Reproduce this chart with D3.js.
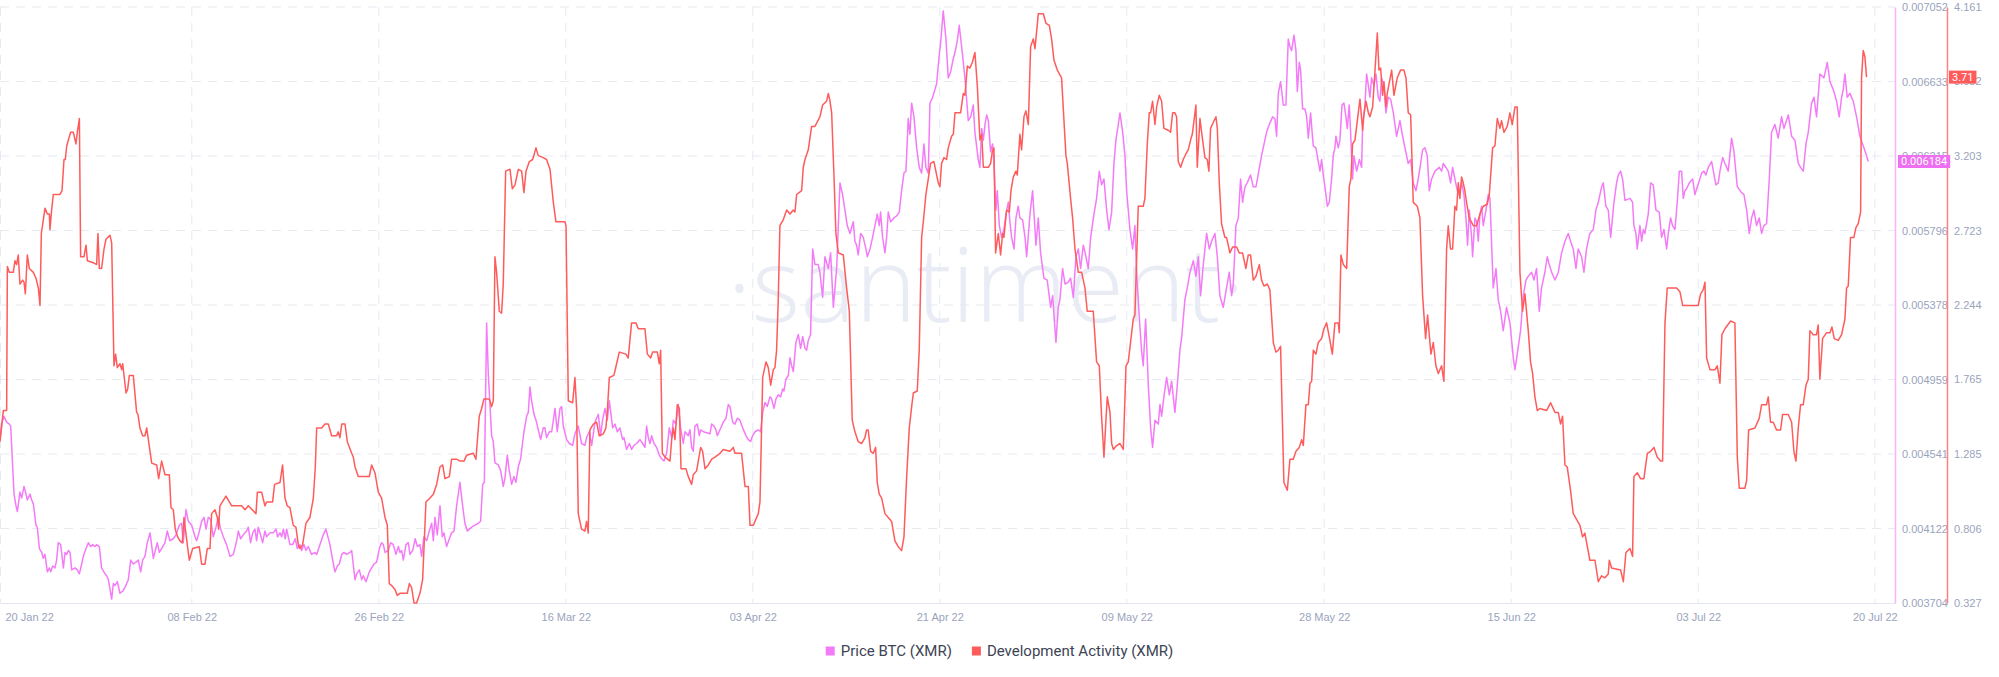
<!DOCTYPE html>
<html>
<head>
<meta charset="utf-8">
<script src="https://cdn.jsdelivr.net/npm/d3@7"></script>
<style>
  body { margin: 0; background: #fff; }
  svg { display: block; font-family: Roboto, "Open Sans", sans-serif; }
</style>
</head>
<body>
<div id="chart"></div>
<script>
// XMR price in BTC vs development activity, 20 Jan - 20 Jul 2022

// time of the left edge of the plot, series offsets are in days from it
const startTime = Date.UTC(2022, 0, 20, 13, 0);
const spanDays = 182.4;

const tickDates = ['2022-01-20', '2022-02-08', '2022-02-26', '2022-03-16', '2022-04-03', '2022-04-21',
  '2022-05-09', '2022-05-28', '2022-06-15', '2022-07-03', '2022-07-20'];
const priceTicks = [0.003704, 0.004122, 0.004541, 0.004959, 0.005378, 0.005796, 0.006215, 0.006633, 0.007052];
const devTicks = [0.327, 0.806, 1.285, 1.765, 2.244, 2.723, 3.203, 3.682, 4.161];
const seriesNames = ['Price BTC (XMR)', 'Development Activity (XMR)'];

const priceDays = [
  0, 0.16, 0.38, 0.64, 0.90, 1.03, 1.22, 1.35, 1.54, 1.67, 1.80, 1.92, 2.09, 2.31, 2.50, 2.63, 2.89, 3.05, 3.21, 3.46,
  3.59, 3.79, 4.01, 4.17, 4.33, 4.56, 4.75, 4.88, 5.07, 5.29, 5.45, 5.61, 5.84, 6.10, 6.26, 6.42, 6.58, 6.74, 6.90, 7.22,
  7.44, 7.64, 7.86, 8.02, 8.28, 8.50, 8.73, 8.92, 9.14, 9.30, 9.56, 9.78, 10.11, 10.27, 10.43, 10.75, 10.91, 11.07, 11.29, 11.55,
  11.81, 12.03, 12.35, 12.58, 12.83, 13.09, 13.31, 13.54, 13.73, 13.95, 14.18, 14.44, 14.76, 14.95, 15.14, 15.33, 15.56, 15.88, 16.10, 16.36,
  16.68, 16.94, 17.26, 17.48, 17.64, 17.90, 18.13, 18.45, 18.77, 18.93, 19.15, 19.41, 19.63, 19.83, 20.05, 20.27, 20.53, 20.79, 21.01, 21.24,
  21.49, 21.81, 22.14, 22.46, 22.78, 22.94, 23.16, 23.42, 23.74, 23.90, 24.12, 24.32, 24.54, 24.70, 24.86, 25.02, 25.28, 25.50, 25.66, 25.98,
  26.31, 26.56, 26.72, 26.95, 27.11, 27.27, 27.46, 27.59, 27.91, 28.17, 28.42, 28.62, 28.87, 29.03, 29.26, 29.45, 29.67, 29.99, 30.32, 30.48,
  30.80, 31.12, 31.37, 31.76, 32.02, 32.24, 32.47, 32.66, 32.89, 33.11, 33.37, 33.69, 33.85, 34.17, 34.33, 34.59, 34.81, 34.97, 35.23, 35.55,
  35.77, 36.00, 36.25, 36.51, 36.73, 36.90, 37.06, 37.38, 37.60, 37.86, 38.11, 38.34, 38.50, 38.66, 38.82, 39.08, 39.30, 39.46, 39.72, 39.97,
  40.17, 40.42, 40.58, 40.81, 41.07, 41.32, 41.55, 41.71, 41.87, 42.09, 42.35, 42.57, 42.73, 42.99, 43.25, 43.47, 43.70, 43.95, 44.27, 44.53,
  44.75, 44.98, 45.40, 45.72, 46.04, 46.26, 46.46, 46.62, 46.84, 47.00, 47.32, 47.48, 47.64, 47.96, 48.19, 48.44, 48.60, 48.83, 49.02, 49.25,
  49.47, 49.66, 49.89, 50.11, 50.43, 50.69, 50.85, 51.01, 51.17, 51.40, 51.59, 51.81, 52.04, 52.29, 52.45, 52.61, 52.87, 53.10, 53.42, 53.64,
  53.90, 54.06, 54.22, 54.54, 54.80, 55.12, 55.34, 55.66, 55.98, 56.30, 56.46, 56.72, 56.95, 57.27, 57.59, 57.81, 58.00, 58.23, 58.45, 58.65,
  58.97, 59.19, 59.42, 59.67, 59.93, 60.06, 60.31, 60.57, 60.79, 61.02, 61.28, 61.60, 61.86, 62.08, 62.24, 62.40, 62.56, 62.72, 62.95, 63.20,
  63.46, 63.69, 63.91, 64.17, 64.42, 64.65, 64.81, 65.06, 65.29, 65.51, 65.77, 65.93, 66.25, 66.41, 66.57, 66.73, 66.89, 67.12, 67.31, 67.44,
  67.70, 68.34, 68.50, 68.72, 68.91, 69.04, 69.30, 69.62, 69.88, 70.10, 70.26, 70.52, 70.74, 70.97, 71.22, 71.48, 71.80, 72.03, 72.25, 72.44,
  72.67, 72.99, 73.21, 73.41, 73.63, 73.85, 74.11, 74.27, 74.50, 74.69, 74.91, 75.14, 75.33, 75.46, 75.65, 75.88, 76.04, 76.20, 76.36, 76.61,
  76.84, 77.06, 77.26, 77.48, 77.64, 77.80, 78.02, 78.22, 78.44, 78.76, 78.92, 79.18, 79.40, 79.73, 79.95, 80.21, 80.53, 80.85, 81.10, 81.33,
  81.55, 81.81, 82.13, 82.29, 82.45, 82.61, 82.84, 83.09, 83.35, 83.48, 83.74, 83.99, 84.22, 84.44, 84.63, 84.76, 84.95, 85.18, 85.34, 85.50,
  85.72, 86.04, 86.30, 86.56, 86.78, 87.01, 87.20, 87.42, 87.58, 87.75, 87.97, 88.23, 88.48, 88.71, 88.93, 89.12, 89.35, 89.51, 89.77, 89.99,
  90.15, 90.41, 90.54, 90.79, 91.05, 91.27, 91.50, 91.76, 91.92, 92.14, 92.33, 92.56, 92.88, 93.20, 93.43, 93.68, 93.84, 94.16, 94.32, 94.49,
  94.65, 94.81, 94.97, 95.13, 95.35, 95.54, 95.67, 95.86, 95.99, 96.19, 96.41, 96.63, 96.83, 97.05, 97.21, 97.37, 97.60, 97.79, 98.01, 98.17,
  98.43, 98.66, 98.82, 99.14, 99.39, 99.62, 99.71, 99.94, 100.16, 100.48, 100.80, 101.13, 101.32, 101.64, 101.86, 102.02, 102.28, 102.51, 102.83, 103.05,
  103.31, 103.56, 103.79, 104.01, 104.27, 104.53, 104.75, 104.98, 105.30, 105.55, 105.81, 106.03, 106.26, 106.52, 106.74, 107.00, 107.22, 107.41, 107.64, 107.80,
  108.06, 108.28, 108.44, 108.76, 109.02, 109.24, 109.40, 109.72, 109.88, 110.04, 110.27, 110.53, 110.75, 110.94, 111.17, 111.49, 111.65, 111.81, 112.03, 112.29,
  112.55, 112.77, 113.09, 113.32, 113.57, 113.73, 114.05, 114.28, 114.54, 114.86, 115.11, 115.34, 115.56, 115.82, 116.14, 116.40, 116.62, 116.94, 117.17, 117.42,
  117.74, 118.06, 118.32, 118.55, 118.71, 118.96, 119.19, 119.41, 119.60, 119.83, 120.05, 120.37, 120.63, 120.89, 121.43, 121.91, 122.17, 122.49, 122.72, 122.88,
  123.04, 123.26, 123.52, 123.77, 124.00, 124.16, 124.32, 124.55, 124.74, 124.87, 125.06, 125.19, 125.38, 125.61, 125.77, 125.93, 126.15, 126.28, 126.41, 126.66,
  126.79, 127.05, 127.21, 127.37, 127.53, 127.76, 127.95, 128.17, 128.33, 128.49, 128.59, 128.81, 128.97, 129.17, 129.36, 129.55, 129.68, 129.87, 130.00, 130.19,
  130.32, 130.58, 130.84, 131.06, 131.16, 131.38, 131.54, 131.71, 131.86, 132.02, 132.25, 132.44, 132.66, 132.82, 132.98, 133.21, 133.40, 133.63, 133.85, 134.11,
  134.43, 134.75, 134.94, 135.23, 135.55, 135.78, 136.03, 136.29, 136.51, 136.74, 136.93, 137.15, 137.38, 137.57, 137.80, 138.12, 138.53, 138.76, 138.92, 139.18,
  139.40, 139.62, 139.82, 140.04, 140.27, 140.46, 140.68, 140.91, 141.10, 141.26, 141.42, 141.65, 141.74, 141.97, 142.13, 142.29, 142.45, 142.61, 142.77, 143.03,
  143.25, 143.41, 143.51, 143.73, 143.99, 144.21, 144.44, 144.69, 145.01, 145.34, 145.66, 145.82, 146.04, 146.36, 146.62, 146.88, 147.10, 147.42, 147.65, 147.90,
  148.16, 148.38, 148.70, 148.93, 149.12, 149.35, 149.67, 149.99, 150.31, 150.63, 150.95, 151.17, 151.43, 151.69, 151.91, 152.23, 152.46, 152.71, 153.03, 153.36,
  153.61, 153.84, 154.16, 154.32, 154.57, 154.80, 155.03, 155.35, 155.60, 155.76, 155.99, 156.18, 156.41, 156.89, 157.14, 157.27, 157.46, 157.59, 157.85, 158.01,
  158.17, 158.33, 158.65, 158.88, 159.13, 159.39, 159.71, 159.93, 160.16, 160.42, 160.58, 160.80, 160.99, 161.22, 161.44, 161.64, 161.86, 162.02, 162.18, 162.34,
  162.60, 162.92, 163.14, 163.37, 163.62, 163.78, 164.01, 164.20, 164.43, 164.75, 165.16, 165.39, 165.55, 165.81, 166.03, 166.35, 166.67, 166.90, 167.22, 167.63,
  167.86, 168.12, 168.37, 168.60, 168.82, 169.08, 169.33, 169.56, 169.78, 170.04, 170.30, 170.52, 170.84, 171.16, 171.48, 171.71, 172.13, 172.45, 172.77, 173.09,
  173.31, 173.57, 173.83, 174.05, 174.37, 174.60, 174.85, 175.17, 175.56, 175.88, 176.14, 176.46, 176.78, 177.03, 177.26, 177.42, 177.58, 177.80, 178.06, 178.38,
  178.70, 179.02, 179.34, 179.66, 179.82
];
const priceBtc = [
  0.004622, 0.004709, 0.004753, 0.004720, 0.004709, 0.004698, 0.004469, 0.004316, 0.004250, 0.004218, 0.004272, 0.004327, 0.004294, 0.004359, 0.004316, 0.004283, 0.004316, 0.004283, 0.004261, 0.004141,
  0.004130, 0.004010, 0.003988, 0.003955, 0.003977, 0.003879, 0.003901, 0.003879, 0.003912, 0.003901, 0.003945, 0.004043, 0.004032, 0.003901, 0.003988, 0.003977, 0.003999, 0.003988, 0.003890, 0.003901,
  0.003890, 0.003868, 0.003923, 0.003966, 0.004010, 0.004043, 0.004021, 0.004032, 0.004021, 0.004032, 0.004021, 0.003901, 0.003868, 0.003857, 0.003835, 0.003726, 0.003813, 0.003802, 0.003824, 0.003759,
  0.003770, 0.003792, 0.003835, 0.003945, 0.003923, 0.003934, 0.003945, 0.003879, 0.003945, 0.003966, 0.004043, 0.004098, 0.003955, 0.003999, 0.004043, 0.003988, 0.004010, 0.004043, 0.004108, 0.004054,
  0.004065, 0.004087, 0.004141, 0.004152, 0.004043, 0.004229, 0.004163, 0.004141, 0.004076, 0.004054, 0.004098, 0.004163, 0.004185, 0.004119, 0.004185, 0.004174, 0.004076, 0.004130, 0.004185, 0.004119,
  0.004076, 0.004032, 0.003966, 0.003977, 0.004054, 0.004108, 0.004065, 0.004087, 0.004108, 0.004130, 0.004043, 0.004098, 0.004119, 0.004054, 0.004130, 0.004098, 0.004043, 0.004108, 0.004076, 0.004098,
  0.004098, 0.004119, 0.004076, 0.004098, 0.004076, 0.004119, 0.004065, 0.004119, 0.004032, 0.004032, 0.004065, 0.004010, 0.004032, 0.003999, 0.004032, 0.003999, 0.004021, 0.003977, 0.003988, 0.003977,
  0.004032, 0.004087, 0.004119, 0.004032, 0.003945, 0.003879, 0.003912, 0.003923, 0.003977, 0.003988, 0.003977, 0.003988, 0.003999, 0.003835, 0.003868, 0.003890, 0.003835, 0.003857, 0.003824, 0.003879,
  0.003901, 0.003923, 0.003934, 0.004010, 0.004043, 0.004032, 0.003988, 0.003999, 0.004043, 0.004032, 0.003977, 0.004021, 0.003988, 0.003999, 0.003945, 0.004032, 0.004043, 0.003977, 0.003999, 0.004065,
  0.004021, 0.004032, 0.003966, 0.004076, 0.004054, 0.004108, 0.004152, 0.004054, 0.004185, 0.004087, 0.004250, 0.004076, 0.004098, 0.004021, 0.004065, 0.004098, 0.004108, 0.004250, 0.004382, 0.004250,
  0.004152, 0.004108, 0.004130, 0.004141, 0.004152, 0.004163, 0.004371, 0.004382, 0.005277, 0.004993, 0.004644, 0.004611, 0.004491, 0.004480, 0.004447, 0.004359, 0.004403, 0.004535, 0.004447, 0.004371,
  0.004414, 0.004382, 0.004469, 0.004513, 0.004666, 0.004753, 0.004775, 0.004917, 0.004840, 0.004764, 0.004731, 0.004677, 0.004622, 0.004688, 0.004688, 0.004633, 0.004666, 0.004666, 0.004797, 0.004666,
  0.004797, 0.004808, 0.004698, 0.004622, 0.004600, 0.004589, 0.004655, 0.004698, 0.004600, 0.004589, 0.004633, 0.004666, 0.004589, 0.004720, 0.004764, 0.004644, 0.004731, 0.004797, 0.004731, 0.004840,
  0.004688, 0.004709, 0.004666, 0.004688, 0.004622, 0.004633, 0.004567, 0.004600, 0.004567, 0.004589, 0.004600, 0.004622, 0.004600, 0.004578, 0.004698, 0.004633, 0.004600, 0.004644, 0.004600, 0.004578,
  0.004535, 0.004513, 0.004502, 0.004546, 0.004688, 0.004633, 0.004731, 0.004709, 0.004819, 0.004688, 0.004600, 0.004666, 0.004644, 0.004677, 0.004578, 0.004556, 0.004698, 0.004709, 0.004644, 0.004677,
  0.004666, 0.004655, 0.004709, 0.004698, 0.004677, 0.004644, 0.004677, 0.004720, 0.004742, 0.004819, 0.004808, 0.004720, 0.004709, 0.004742, 0.004731, 0.004688, 0.004644, 0.004622, 0.004611, 0.004644,
  0.004666, 0.004677, 0.004666, 0.004775, 0.004830, 0.004808, 0.004862, 0.004851, 0.004797, 0.004851, 0.004873, 0.004862, 0.004906, 0.004895, 0.004961, 0.004982, 0.005081, 0.005037, 0.005004, 0.005168,
  0.005212, 0.005135, 0.005201, 0.005135, 0.005124, 0.005179, 0.005212, 0.005693, 0.005605, 0.005605, 0.005562, 0.005420, 0.005649, 0.005583, 0.005671, 0.005365, 0.005583, 0.006064, 0.005998, 0.005911,
  0.005824, 0.005780, 0.005846, 0.005736, 0.005714, 0.005660, 0.005780, 0.005758, 0.005693, 0.005649, 0.005693, 0.005758, 0.005824, 0.005889, 0.005824, 0.005900, 0.005758, 0.005671, 0.005758, 0.005900,
  0.005845, 0.005867, 0.005878, 0.005900, 0.006020, 0.006119, 0.006130, 0.006425, 0.006337, 0.006512, 0.006435, 0.006261, 0.006151, 0.006119, 0.006283, 0.006151, 0.006119, 0.006512, 0.006545, 0.006588,
  0.006621, 0.006785, 0.006851, 0.007030, 0.006872, 0.006654, 0.006687, 0.006763, 0.006796, 0.006862, 0.006949, 0.006829, 0.006654, 0.006414, 0.006435, 0.006501, 0.006348, 0.006195, 0.006151, 0.006370,
  0.006304, 0.006392, 0.006446, 0.006414, 0.006239, 0.006283, 0.006173, 0.005911, 0.006020, 0.005824, 0.005758, 0.005802, 0.005889, 0.005955, 0.005845, 0.005758, 0.005693, 0.005867, 0.005933, 0.005867,
  0.005856, 0.005758, 0.005649, 0.005889, 0.006020, 0.005802, 0.005714, 0.005867, 0.005671, 0.005529, 0.005518, 0.005365, 0.005430, 0.005168, 0.005365, 0.005408, 0.005583, 0.005496, 0.005507, 0.005529,
  0.005420, 0.005649, 0.005693, 0.005583, 0.005714, 0.005649, 0.005583, 0.005758, 0.005889, 0.005977, 0.006130, 0.006053, 0.006086, 0.005911, 0.005802, 0.005900, 0.006173, 0.006304, 0.006392, 0.006457,
  0.006348, 0.006217, 0.006020, 0.005802, 0.005693, 0.005824, 0.005562, 0.005256, 0.005124, 0.005037, 0.005299, 0.004928, 0.004688, 0.004578, 0.004731, 0.004709, 0.004819, 0.004753, 0.004862, 0.004971,
  0.004873, 0.004950, 0.004775, 0.004928, 0.005124, 0.005190, 0.005408, 0.005474, 0.005562, 0.005627, 0.005540, 0.005649, 0.005430, 0.005605, 0.005780, 0.005693, 0.005736, 0.005780, 0.005649, 0.005430,
  0.005365, 0.005474, 0.005562, 0.005430, 0.005496, 0.005824, 0.005867, 0.006086, 0.005955, 0.006042, 0.006064, 0.006108, 0.006042, 0.006042, 0.006217, 0.006348, 0.006392, 0.006435, 0.006424, 0.006326,
  0.006567, 0.006632, 0.006501, 0.006501, 0.006872, 0.006829, 0.006807, 0.006894, 0.006807, 0.006577, 0.006741, 0.006698, 0.006479, 0.006479, 0.006435, 0.006315, 0.006457, 0.006359, 0.006272, 0.006261,
  0.006217, 0.006130, 0.006195, 0.006108, 0.006042, 0.005933, 0.005955, 0.006086, 0.006217, 0.006261, 0.006326, 0.006261, 0.006304, 0.006501, 0.006512, 0.006435, 0.006370, 0.006501, 0.006348, 0.006086,
  0.006217, 0.006130, 0.006195, 0.006151, 0.006392, 0.006501, 0.006676, 0.006610, 0.006545, 0.006654, 0.006610, 0.006676, 0.006545, 0.006523, 0.006654, 0.006610, 0.006457, 0.006545, 0.006534, 0.006457,
  0.006326, 0.006414, 0.006348, 0.006261, 0.006173, 0.006195, 0.006064, 0.006020, 0.006086, 0.006173, 0.006250, 0.006261, 0.006217, 0.006020, 0.006086, 0.006130, 0.006151, 0.006130, 0.006173, 0.006151,
  0.006130, 0.006064, 0.006151, 0.006086, 0.006020, 0.005998, 0.006064, 0.005998, 0.005867, 0.005714, 0.005911, 0.005758, 0.005649, 0.005867, 0.005845, 0.005736, 0.005889, 0.005933, 0.005824, 0.005911,
  0.005998, 0.005977, 0.005824, 0.005474, 0.005583, 0.005408, 0.005343, 0.005234, 0.005365, 0.005277, 0.005081, 0.005015, 0.005102, 0.005234, 0.005430, 0.005518, 0.005540, 0.005562, 0.005518, 0.005583,
  0.005343, 0.005474, 0.005562, 0.005649, 0.005605, 0.005562, 0.005518, 0.005562, 0.005671, 0.005736, 0.005780, 0.005736, 0.005693, 0.005583, 0.005693, 0.005649, 0.005562, 0.005693, 0.005780, 0.005802,
  0.005911, 0.005955, 0.006042, 0.006064, 0.005933, 0.005911, 0.005758, 0.005955, 0.006064, 0.006108, 0.006130, 0.006086, 0.005966, 0.005977, 0.005955, 0.005824, 0.005780, 0.005693, 0.005824, 0.005736,
  0.005802, 0.005780, 0.005889, 0.006064, 0.006053, 0.005911, 0.005900, 0.005758, 0.005802, 0.005693, 0.005780, 0.005867, 0.005824, 0.005802, 0.005955, 0.006130, 0.006130, 0.005977, 0.006020, 0.006031,
  0.006064, 0.006086, 0.005998, 0.006042, 0.006086, 0.006119, 0.006130, 0.006108, 0.006151, 0.006184, 0.006053, 0.006064, 0.006130, 0.006206, 0.006173, 0.006130, 0.006315, 0.006239, 0.006042, 0.006009,
  0.005998, 0.005911, 0.005780, 0.005867, 0.005911, 0.005824, 0.005867, 0.005780, 0.005824, 0.005835, 0.006086, 0.006348, 0.006392, 0.006315, 0.006435, 0.006370, 0.006446, 0.006326, 0.006304, 0.006173,
  0.006151, 0.006130, 0.006283, 0.006348, 0.006512, 0.006545, 0.006435, 0.006676, 0.006654, 0.006741, 0.006632, 0.006588, 0.006523, 0.006435, 0.006545, 0.006588, 0.006676, 0.006545, 0.006567, 0.006523,
  0.006435, 0.006326, 0.006272, 0.006217, 0.006184
];

const devDays = [
  0, 0.32, 0.64, 0.71, 0.90, 1.28, 1.44, 1.60, 1.76, 1.92, 2.18, 2.31, 2.44, 2.63, 2.82, 3.21, 3.46, 3.69, 3.85, 3.98,
  4.17, 4.33, 4.56, 4.75, 4.81, 4.97, 5.13, 5.77, 5.97, 6.16, 6.29, 6.42, 6.58, 6.80, 7.06, 7.31, 7.44, 7.64, 7.76, 8.08,
  8.28, 8.41, 8.98, 9.30, 9.43, 9.56, 9.78, 10.01, 10.20, 10.59, 10.75, 10.97, 11.13, 11.29, 11.55, 11.71, 11.81, 12.13, 12.29, 12.45,
  12.83, 13.15, 13.28, 13.47, 13.73, 13.95, 14.12, 14.60, 15.08, 15.27, 15.56, 15.88, 16.30, 16.46, 16.68, 16.87, 17.10, 17.32, 17.55, 17.71,
  17.84, 18.22, 18.54, 19.18, 19.41, 19.73, 19.95, 20.21, 20.37, 20.69, 20.92, 21.04, 21.17, 21.75, 22.30, 23.26, 23.58, 23.90, 24.64, 24.77,
  25.18, 25.50, 25.66, 26.24, 26.43, 26.95, 27.20, 27.43, 27.65, 27.91, 28.23, 28.49, 28.71, 28.87, 29.13, 29.45, 29.83, 30.16, 30.35, 30.48,
  30.96, 31.28, 31.60, 31.92, 32.40, 32.56, 32.72, 32.89, 33.21, 33.43, 33.85, 34.01, 34.17, 34.49, 35.55, 35.77, 36.09, 36.41, 36.73, 37.06,
  37.28, 37.47, 37.70, 38.02, 38.24, 38.50, 39.20, 39.40, 39.62, 39.85, 40.10, 40.42, 40.68, 41.00, 41.39, 41.71, 42.03, 42.35, 42.61, 42.83,
  43.25, 43.47, 43.95, 44.27, 44.66, 44.92, 45.56, 45.81, 46.13, 46.36, 46.58, 47.10, 47.32, 47.48, 47.64, 47.80, 48.06, 48.28, 48.44, 48.67,
  49.09, 49.31, 49.57, 49.89, 50.21, 50.43, 50.63, 50.95, 51.27, 51.59, 51.81, 52.29, 52.61, 52.94, 53.26, 53.51, 54.38, 54.48, 54.70, 55.12,
  55.34, 55.50, 55.66, 55.98, 56.30, 56.46, 56.62, 56.78, 57.11, 57.43, 57.68, 58.07, 58.32, 58.45, 58.65, 59.09, 59.35, 59.61, 60.25, 60.47,
  60.79, 61.21, 61.44, 62.08, 62.31, 62.63, 62.82, 63.27, 63.46, 63.59, 63.75, 64.01, 64.49, 64.65, 64.81, 64.97, 65.19, 65.39, 65.55, 66.03,
  66.25, 66.57, 66.73, 67.05, 67.44, 67.63, 67.86, 68.18, 68.50, 68.82, 69.30, 69.62, 70.26, 70.58, 70.74, 71.38, 71.71, 72.03, 72.19, 72.51,
  72.99, 73.15, 73.41, 73.73, 73.95, 74.18, 74.43, 74.59, 74.75, 74.91, 75.07, 75.39, 75.72, 76.04, 76.36, 76.52, 76.68, 77.16, 77.32, 77.48,
  77.80, 78.12, 78.44, 78.92, 79.18, 79.56, 79.73, 79.89, 80.05, 80.27, 80.46, 80.69, 81.17, 81.49, 81.75, 82.03, 82.29, 82.61, 82.93, 83.25,
  83.41, 83.57, 83.80, 84.06, 84.28, 84.44, 84.63, 84.86, 85.18, 85.50, 85.82, 86.14, 86.46, 86.78, 87.01, 87.26, 87.52, 87.75, 87.91, 88.29,
  88.48, 88.71, 88.87, 89.12, 89.35, 89.57, 89.89, 90.31, 90.47, 90.63, 90.86, 91.11, 91.27, 91.59, 91.76, 91.92, 92.46, 92.72, 92.88, 93.11,
  93.36, 93.59, 93.84, 94.07, 94.32, 94.49, 94.65, 95.13, 95.35, 95.51, 95.67, 95.83, 96.09, 96.31, 96.51, 96.63, 96.89, 97.15, 97.31, 97.53,
  97.79, 97.92, 98.17, 98.33, 98.56, 98.75, 98.98, 99.20, 99.46, 99.62, 99.71, 99.94, 100.42, 100.68, 101.00, 101.22, 101.45, 101.77, 102.18, 102.60,
  102.73, 103.05, 103.24, 103.47, 103.79, 104.11, 104.43, 104.65, 105.23, 105.55, 105.81, 106.03, 106.26, 106.45, 106.58, 106.84, 107.00, 107.16, 107.48, 107.80,
  108.12, 108.38, 108.60, 109.08, 109.24, 109.56, 110.04, 110.20, 110.43, 110.62, 110.75, 110.94, 111.17, 111.33, 111.58, 111.81, 112.03, 112.45, 112.67, 112.87,
  113.09, 113.25, 113.41, 113.64, 113.89, 114.15, 114.37, 114.60, 114.76, 115.02, 115.11, 115.24, 115.50, 115.66, 115.98, 116.20, 116.36, 116.52, 116.78, 117.04,
  117.17, 117.36, 117.58, 117.90, 118.06, 118.38, 118.64, 119.03, 119.28, 119.60, 119.92, 120.15, 120.37, 120.63, 120.89, 121.21, 121.43, 121.66, 121.98, 122.23,
  122.56, 122.81, 123.04, 123.26, 123.58, 123.91, 124.16, 124.48, 124.74, 125.06, 125.29, 125.45, 125.70, 125.93, 126.09, 126.25, 126.41, 126.66, 126.89, 127.21,
  127.43, 127.69, 128.01, 128.24, 128.49, 128.81, 128.91, 129.07, 129.30, 129.62, 129.87, 130.03, 130.19, 130.42, 130.74, 130.90, 131.16, 131.28, 131.48, 131.71,
  131.86, 132.12, 132.34, 132.57, 132.73, 132.89, 133.08, 133.21, 133.40, 133.53, 133.95, 134.17, 134.49, 134.81, 135.13, 135.33, 135.55, 135.78, 136.03, 136.42,
  136.67, 136.93, 137.22, 137.41, 137.73, 137.96, 138.21, 138.44, 138.76, 138.98, 139.24, 139.40, 139.62, 139.82, 140.04, 140.20, 140.36, 140.52, 140.68, 140.84,
  141.00, 141.16, 141.42, 141.81, 142.13, 142.45, 142.77, 143.15, 143.35, 143.67, 143.89, 144.12, 144.37, 144.53, 144.76, 145.08, 145.34, 145.56, 145.82, 146.04,
  146.30, 146.55, 146.78, 147.10, 147.32, 147.52, 147.74, 147.97, 148.22, 148.86, 149.25, 149.67, 149.99, 150.21, 150.40, 150.63, 150.85, 151.17, 151.43, 151.75,
  152.07, 152.33, 152.55, 153.03, 153.52, 153.84, 154.16, 154.48, 154.80, 154.90, 155.12, 155.99, 156.25, 156.50, 156.89, 157.14, 157.27, 157.59, 157.91, 158.23,
  158.56, 158.88, 159.20, 159.52, 159.84, 160.03, 160.26, 160.48, 161.38, 161.70, 161.96, 163.46, 163.69, 163.94, 164.11, 164.27, 164.59, 165.07, 165.29, 165.55,
  165.74, 166.03, 166.58, 166.99, 167.22, 167.41, 167.95, 168.12, 168.31, 168.92, 169.33, 169.56, 170.04, 170.20, 170.42, 170.68, 171.00, 171.39, 171.58, 172.13,
  172.45, 172.67, 172.86, 173.09, 173.31, 173.57, 173.83, 174.05, 174.21, 174.53, 174.85, 175.01, 175.17, 175.43, 175.81, 176.14, 176.33, 176.55, 176.94, 177.26,
  177.58, 177.74, 177.90, 178.12, 178.44, 178.64, 178.86, 179.09, 179.18, 179.34, 179.50, 179.66
];
const devActivity = [
  1.365, 1.565, 1.565, 2.491, 2.454, 2.454, 2.529, 2.504, 2.566, 2.379, 2.404, 2.391, 2.316, 2.566, 2.479, 2.454, 2.416, 2.354, 2.241, 2.704,
  2.792, 2.867, 2.829, 2.829, 2.729, 2.854, 2.955, 2.955, 2.980, 3.180, 3.180, 3.267, 3.305, 3.355, 3.355, 3.280, 3.355, 3.443, 2.554, 2.554,
  2.629, 2.529, 2.516, 2.504, 2.704, 2.479, 2.479, 2.604, 2.667, 2.692, 2.642, 1.853, 1.928, 1.841, 1.866, 1.828, 1.866, 1.678, 1.703, 1.791,
  1.791, 1.553, 1.540, 1.453, 1.403, 1.403, 1.453, 1.227, 1.215, 1.127, 1.240, 1.152, 1.152, 0.940, 0.927, 0.802, 0.752, 0.727, 0.714, 0.877,
  0.802, 0.602, 0.677, 0.689, 0.577, 0.577, 0.677, 0.677, 0.902, 0.927, 0.877, 0.802, 0.952, 1.015, 0.952, 0.952, 0.927, 0.952, 0.902, 1.040,
  1.040, 0.952, 0.977, 0.977, 1.090, 1.102, 1.215, 1.002, 0.952, 0.940, 0.827, 0.814, 0.702, 0.677, 0.702, 0.840, 0.877, 1.002, 1.202, 1.453,
  1.453, 1.478, 1.478, 1.403, 1.403, 1.428, 1.390, 1.478, 1.478, 1.365, 1.290, 1.265, 1.202, 1.140, 1.140, 1.215, 1.165, 1.040, 1.002, 0.877,
  0.827, 0.452, 0.439, 0.414, 0.376, 0.389, 0.389, 0.452, 0.426, 0.327, 0.327, 0.389, 0.477, 0.977, 1.002, 1.027, 1.090, 1.202, 1.215, 1.127,
  1.140, 1.252, 1.252, 1.240, 1.240, 1.278, 1.290, 1.252, 1.528, 1.578, 1.640, 1.640, 1.590, 1.628, 2.554, 2.454, 2.204, 2.191, 2.379, 3.105,
  3.117, 2.992, 3.017, 3.117, 3.105, 2.967, 3.105, 3.167, 3.180, 3.255, 3.205, 3.192, 3.180, 3.117, 2.904, 2.779, 2.779, 2.754, 1.628, 1.615,
  1.778, 1.578, 0.902, 0.802, 0.789, 0.852, 0.777, 1.440, 1.478, 1.490, 1.403, 1.415, 1.453, 1.553, 1.778, 1.791, 1.866, 1.941, 1.928, 1.903,
  2.129, 2.129, 2.091, 2.091, 1.928, 1.903, 1.941, 1.941, 1.866, 1.953, 1.290, 1.265, 1.240, 1.378, 1.453, 1.378, 1.603, 1.578, 1.190, 1.190,
  1.140, 1.090, 1.152, 1.177, 1.328, 1.303, 1.190, 1.215, 1.252, 1.265, 1.290, 1.315, 1.303, 1.328, 1.290, 1.290, 1.077, 1.077, 0.827, 0.827,
  0.902, 0.977, 1.778, 1.878, 1.841, 1.728, 1.828, 1.841, 1.953, 2.279, 2.754, 2.792, 2.855, 2.829, 2.855, 2.842, 2.955, 2.980, 3.130, 3.180,
  3.242, 3.393, 3.393, 3.455, 3.530, 3.555, 3.605, 3.555, 3.480, 3.080, 2.704, 2.579, 2.566, 2.354, 2.204, 1.503, 1.428, 1.365, 1.353, 1.390,
  1.440, 1.440, 1.303, 1.290, 1.328, 1.102, 1.027, 1.002, 0.902, 0.877, 0.852, 0.727, 0.689, 0.664, 0.752, 1.127, 1.453, 1.590, 1.678, 1.691,
  1.953, 2.679, 2.779, 2.955, 3.055, 3.155, 3.167, 3.030, 3.005, 3.155, 3.192, 3.180, 3.255, 3.330, 3.343, 3.480, 3.480, 3.605, 3.593, 3.781,
  3.768, 3.806, 3.868, 3.655, 3.305, 3.343, 3.130, 3.130, 3.155, 3.230, 3.255, 2.579, 2.704, 2.566, 2.704, 2.679, 2.855, 2.842, 2.980, 3.067,
  3.105, 3.080, 3.342, 3.242, 3.455, 3.493, 3.405, 3.906, 3.956, 3.893, 3.956, 4.118, 4.118, 4.056, 4.043, 3.956, 3.818, 3.755, 3.705, 3.205,
  3.155, 2.929, 2.804, 2.604, 2.454, 2.454, 2.354, 2.204, 2.204, 1.878, 1.853, 1.528, 1.265, 1.503, 1.653, 1.553, 1.353, 1.315, 1.340, 1.353,
  1.315, 1.853, 1.878, 2.154, 2.179, 2.879, 2.879, 2.929, 3.280, 3.480, 3.480, 3.555, 3.405, 3.518, 3.593, 3.555, 3.380, 3.368, 3.355, 3.480,
  3.480, 3.455, 3.167, 3.130, 3.180, 3.217, 3.242, 3.305, 3.342, 3.480, 3.530, 3.130, 3.443, 3.355, 3.192, 3.180, 3.105, 3.380, 3.418, 3.455,
  3.380, 3.030, 2.767, 2.679, 2.679, 2.579, 2.617, 2.617, 2.579, 2.579, 2.479, 2.566, 2.566, 2.404, 2.429, 2.504, 2.404, 2.366, 2.379, 2.341,
  2.003, 1.941, 1.953, 1.978, 1.102, 1.052, 1.252, 1.252, 1.303, 1.328, 1.378, 1.340, 1.603, 1.603, 1.741, 1.753, 1.953, 1.928, 2.003, 2.028,
  2.091, 2.129, 2.016, 1.928, 2.129, 2.129, 2.066, 2.566, 2.504, 2.479, 3.005, 3.055, 3.280, 3.305, 3.480, 3.568, 3.368, 3.468, 3.555, 3.480,
  3.455, 3.518, 3.743, 3.993, 3.755, 3.768, 3.593, 3.680, 3.518, 3.605, 3.755, 3.593, 3.705, 3.755, 3.755, 3.705, 3.480, 3.468, 2.904, 2.879,
  2.804, 2.304, 2.028, 2.179, 1.928, 2.003, 1.853, 1.803, 1.853, 1.753, 2.604, 2.754, 2.604, 2.604, 2.879, 2.854, 3.030, 2.929, 3.067, 3.030,
  2.980, 2.904, 2.804, 2.754, 2.754, 2.829, 2.879, 2.892, 2.955, 3.255, 3.267, 3.443, 3.380, 3.430, 3.355, 3.393, 3.480, 3.405, 3.518, 3.518,
  2.454, 2.204, 2.316, 2.079, 1.878, 1.803, 1.653, 1.565, 1.578, 1.565, 1.615, 1.553, 1.553, 1.478, 1.528, 1.215, 1.202, 1.052, 0.902, 0.865,
  0.827, 0.752, 0.777, 0.602, 0.602, 0.464, 0.502, 0.489, 0.514, 0.602, 0.552, 0.539, 0.464, 0.652, 0.677, 0.627, 1.140, 1.165, 1.127, 1.127,
  1.290, 1.303, 1.328, 1.265, 1.240, 1.240, 2.129, 2.354, 2.354, 2.329, 2.241, 2.241, 2.316, 2.341, 2.391, 1.903, 1.828, 1.828, 1.853, 1.741,
  2.053, 2.091, 2.141, 2.129, 1.265, 1.065, 1.065, 1.115, 1.440, 1.453, 1.515, 1.603, 1.603, 1.653, 1.490, 1.490, 1.440, 1.440, 1.540, 1.540,
  1.490, 1.303, 1.240, 1.453, 1.603, 1.603, 1.728, 1.766, 2.078, 2.053, 2.053, 2.116, 1.766, 2.028, 2.066, 2.066, 2.103, 2.028, 2.016, 2.053,
  2.154, 2.354, 2.366, 2.679, 2.679, 2.742, 2.767, 2.842, 3.705, 3.881, 3.843, 3.710
];

const colors = { price: '#f47bf7', dev: '#ff5b5b' };

const W = 1999;
const H = 677;
const plot = { left: 0, top: 7, right: 1895, bottom: 603 };

const svg = d3.select('#chart')
  .append('svg')
  .attr('width', W)
  .attr('height', H);

svg.append('rect').attr('width', W).attr('height', H).attr('fill', '#fff');

// scales
const xScale = d3.scaleUtc()
  .domain([new Date(startTime), new Date(startTime + spanDays * 864e5)])
  .range([plot.left, plot.right]);
const yPrice = d3.scaleLinear()
  .domain([priceTicks[0], priceTicks[priceTicks.length - 1]])
  .range([plot.bottom, plot.top]);
const yDev = d3.scaleLinear()
  .domain([devTicks[0], devTicks[devTicks.length - 1]])
  .range([plot.bottom, plot.top]);

const toDate = d => new Date(startTime + d * 864e5);
const priceData = priceDays.map((d, i) => ({ date: toDate(d), value: priceBtc[i] }));
const devData = devDays.map((d, i) => ({ date: toDate(d), value: devActivity[i] }));
const ticks = tickDates.map(s => new Date(s + 'T00:00:00Z'));

// watermark
svg.append('text')
  .attr('x', 986)
  .attr('y', 322)
  .attr('text-anchor', 'middle')
  .style('font-family', '"Open Sans", sans-serif')
  .style('font-weight', 300)
  .style('font-size', '104px')
  .style('fill', '#e9ecf4')
  .text('·santiment·');

// grid
const grid = svg.append('g');
grid.selectAll('.hgrid')
  .data(priceTicks.slice(1))
  .enter()
  .append('line')
  .attr('x1', plot.left)
  .attr('x2', plot.right)
  .attr('y1', d => yPrice(d))
  .attr('y2', d => yPrice(d))
  .attr('stroke', '#e6e9f2')
  .attr('stroke-dasharray', '9,7');
grid.selectAll('.vgrid')
  .data(ticks)
  .enter()
  .append('line')
  .attr('x1', d => Math.max(xScale(d), 0.5))
  .attr('x2', d => Math.max(xScale(d), 0.5))
  .attr('y1', plot.top)
  .attr('y2', plot.bottom)
  .attr('stroke', '#e6e9f2')
  .attr('stroke-dasharray', '9,7');

// bottom axis
const xAxis = svg.append('g')
  .attr('transform', `translate(0,${plot.bottom})`)
  .call(d3.axisBottom(xScale).tickValues(ticks).tickSize(0).tickPadding(10)
    .tickFormat(d3.utcFormat('%d %b %y')));
xAxis.select('.domain').attr('stroke', '#e2e6ef');
xAxis.selectAll('text')
  .style('font-size', '11px')
  .style('fill', '#9aa3bd')
  .attr('text-anchor', (d, i) => (i === 0 ? 'start' : 'middle'))
  .attr('x', (d, i) => (i === 0 ? 5 - xScale(d) : 0));

// right axes
function rightAxis(scale, values, x, fmt, color) {
  const g = svg.append('g').attr('transform', `translate(${x},0)`);
  g.call(d3.axisRight(scale).tickValues(values).tickSize(0).tickPadding(7).tickFormat(fmt));
  g.select('.domain').attr('stroke', color).attr('stroke-width', 1.5);
  g.selectAll('text').style('font-size', '11px').style('fill', '#9aa3bd');
  return g;
}
rightAxis(yPrice, priceTicks, plot.right, d3.format('.6f'), '#f6b3f8');
rightAxis(yDev, devTicks, 1947, d3.format('.3f'), '#ff8080');

// lines
const priceLine = d3.line().x(d => xScale(d.date)).y(d => yPrice(d.value));
const devLine = d3.line().x(d => xScale(d.date)).y(d => yDev(d.value));

svg.append('path')
  .datum(priceData)
  .attr('fill', 'none')
  .attr('stroke', colors.price)
  .attr('stroke-width', 1.5)
  .attr('stroke-linejoin', 'round')
  .attr('d', priceLine);

svg.append('path')
  .datum(devData)
  .attr('fill', 'none')
  .attr('stroke', colors.dev)
  .attr('stroke-width', 1.5)
  .attr('stroke-linejoin', 'round')
  .attr('d', devLine);

// last value badges
function badge(x, y, txt, color) {
  const g = svg.append('g').attr('transform', `translate(${x},${y})`);
  const t = g.append('text')
    .attr('x', 3)
    .attr('dy', '0.35em')
    .style('font-size', '11px')
    .style('fill', '#fff')
    .text(txt);
  const w = t.node().getComputedTextLength() + 6;
  g.insert('rect', 'text')
    .attr('y', -6.5)
    .attr('width', w)
    .attr('height', 13)
    .attr('fill', color);
}
const lastPrice = priceData[priceData.length - 1].value;
const lastDev = devData[devData.length - 1].value;
badge(plot.right + 3, yPrice(lastPrice), d3.format('.6f')(lastPrice), '#ee6ff2');
badge(1949, yDev(lastDev), d3.format('.2f')(lastDev), colors.dev);

// legend
const legend = svg.append('g').attr('transform', 'translate(0,651)');
const items = legend.selectAll('g')
  .data(seriesNames)
  .enter()
  .append('g');
items.append('rect')
  .attr('y', -4.5)
  .attr('width', 9)
  .attr('height', 9)
  .attr('fill', (d, i) => (i === 0 ? colors.price : colors.dev));
items.append('text')
  .attr('x', 15)
  .attr('dy', '0.35em')
  .style('font-size', '15px')
  .style('fill', '#3d4454')
  .text(d => d);
const widths = items.nodes().map(n => n.getBBox().width);
const gap = 20;
const total = d3.sum(widths) + gap * (widths.length - 1);
let cursor = W / 2 - total / 2;
items.attr('transform', (d, i) => {
  const x = cursor;
  cursor += widths[i] + gap;
  return `translate(${x},0)`;
});
</script>
</body>
</html>
